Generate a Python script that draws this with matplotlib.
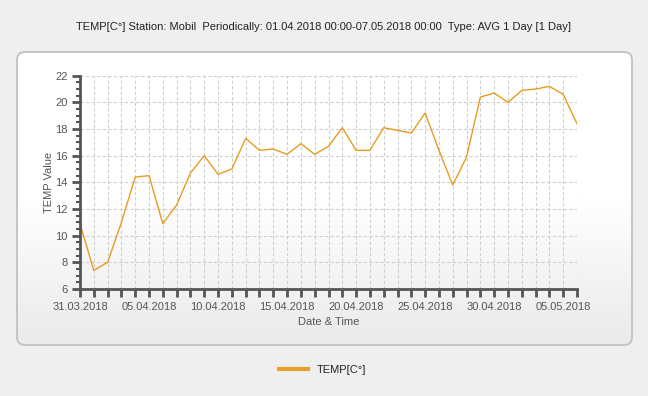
import datetime as dt
import numpy as np
import matplotlib.pyplot as plt
from matplotlib.patches import FancyBboxPatch
from matplotlib.lines import Line2D
from matplotlib.colors import LinearSegmentedColormap

plt.rcParams['font.family'] = ['Liberation Sans', 'DejaVu Sans']

# daily averages, 31.03.2018 .. 06.05.2018
start = dt.datetime(2018, 3, 31)
days = [start + dt.timedelta(days=i) for i in range(37)]
temp = [10.9, 7.4, 8.0, 11.0, 14.4, 14.5, 10.9, 12.3, 14.7, 16.0,
        14.6, 15.0, 17.3, 16.4, 16.5, 16.1, 16.9, 16.1, 16.7, 18.1,
        16.4, 16.4, 18.1, 17.9, 17.7, 19.2, 16.4, 13.8, 15.9, 20.4,
        20.7, 20.0, 20.9, 21.0, 21.2, 20.6, 18.4]
title = "TEMP[C°] Station: Mobil  Periodically: 01.04.2018 00:00-07.05.2018 00:00  Type: AVG 1 Day [1 Day]"
series_name = "TEMP[C°]"

W, H = 648, 396
fig = plt.figure(figsize=(W / 100, H / 100), dpi=100, facecolor='#efefef')

# rounded panel with a soft vertical gradient
px0, py0, px1, py1 = 17, 52, 632, 345
bg = fig.add_axes([px0 / W, 1 - py1 / H, (px1 - px0) / W, (py1 - py0) / H])
bg.axis('off')
cmap = LinearSegmentedColormap.from_list('g', ['#ffffff', '#ffffff', '#eaeaea'])
grad = np.linspace(0, 1, 256).reshape(-1, 1)
im = bg.imshow(grad, extent=[0, 1, 0, 1], aspect='auto', cmap=cmap, origin='upper')
frame = FancyBboxPatch((0, 0), 1, 1, boxstyle='round,pad=0,rounding_size=0.013',
                       mutation_aspect=(px1 - px0) / (py1 - py0),
                       transform=bg.transAxes, facecolor='none',
                       edgecolor='#c4c4c4', linewidth=1.4, clip_on=False)
bg.add_patch(frame)
im.set_clip_path(frame)

ax = fig.add_axes([80 / W, 1 - 289 / H, 497 / W, (289 - 75.7) / H])
ax.set_facecolor('none')
ax.plot(days, temp, color='#e69c20', linewidth=1.0)

ax.set_xlim(days[0], days[-1])
ax.set_ylim(6, 22)
ax.set_xticks(days[::5], labels=[d.strftime('%d.%m.%Y') for d in days[::5]])
ax.set_xticks(days, minor=True)
ax.set_yticks(range(6, 23, 2))
ax.set_yticks(np.arange(6, 22.01, 0.5), minor=True)

grid_kw = dict(color='#cfcfcf', linestyle=(0, (3, 2)), linewidth=0.8)
ax.grid(True, which='both', axis='x', **grid_kw)
ax.grid(True, which='major', axis='y', **grid_kw)
ax.set_axisbelow(True)

for s in ('top', 'right'):
    ax.spines[s].set_visible(False)
for s in ('left', 'bottom'):
    ax.spines[s].set_color('#555555')
    ax.spines[s].set_linewidth(2)

ax.tick_params(axis='both', which='major', direction='out', length=6, width=2,
               color='#555555', labelcolor='#555555', labelsize=8, pad=3)
ax.tick_params(axis='x', which='minor', direction='out', length=6, width=2, color='#555555')
ax.tick_params(axis='y', which='minor', direction='out', length=3, width=1.5, color='#555555')

ax.set_ylabel('TEMP Value', fontsize=8, color='#555555', labelpad=1)
ax.set_xlabel('Date & Time', fontsize=8, color='#555555', labelpad=4)

fig.text(0.5, 1 - 27 / H, title, ha='center', va='center', fontsize=8, color='#222222')

fig.legend(handles=[Line2D([], [], color='#e8a02a', linewidth=3)], labels=[series_name],
           loc='center', bbox_to_anchor=(323 / W, 1 - 370 / H), frameon=False,
           fontsize=8, handlelength=2.6, labelcolor='#222222')

fig.savefig('out.png', dpi=100, facecolor=fig.get_facecolor())
